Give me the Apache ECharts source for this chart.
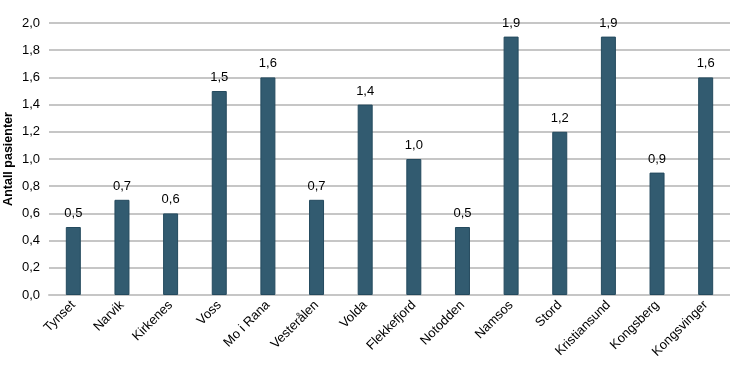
<!DOCTYPE html>
<html><head><meta charset="utf-8">
<script src="https://cdn.jsdelivr.net/npm/echarts@6/dist/echarts.min.js"></script>
<style>html,body{margin:0;padding:0;background:#fff}#c{width:730px;height:374px}</style>
</head><body><div id="c"></div>
<script>
const categories = ["Tynset","Narvik","Kirkenes","Voss","Mo i Rana","Vesterålen","Volda","Flekkefjord","Notodden","Namsos","Stord","Kristiansund","Kongsberg","Kongsvinger"];
const values = [0.5,0.7,0.6,1.5,1.6,0.7,1.4,1.0,0.5,1.9,1.2,1.9,0.9,1.6];
const yTitle = "Antall pasienter";
const fmt = v => v.toFixed(1).replace('.', ',');
const chart = echarts.init(document.getElementById('c'), null, {renderer:'canvas'});
chart.setOption({
  animation:false,
  textStyle:{fontFamily:'"Liberation Sans", Arial, sans-serif'},
  grid:{left:49,right:0,top:23,bottom:79,containLabel:false,outerBoundsMode:'none'},
  xAxis:{type:'category',data:categories,
    axisLine:{lineStyle:{color:'#c6c6c6',width:2}},
    axisTick:{show:false},
    axisLabel:{rotate:45,color:'#000',fontSize:13,margin:8,interval:0}},
  yAxis:{type:'value',min:0,max:2,interval:0.2,
    name:yTitle,nameLocation:'middle',nameGap:34,nameMoveOverlap:false,
    nameTextStyle:{fontWeight:'bold',fontSize:12.5,color:'#000'},
    axisLine:{show:false},axisTick:{show:false},
    axisLabel:{color:'#000',fontSize:13,margin:9,formatter:fmt},
    splitLine:{lineStyle:{color:'#c6c6c6',width:2}}},
  series:[{type:'bar',data:values,barWidth:15,
    itemStyle:{color:'#325b70',borderColor:'#244a5e',borderWidth:1},
    label:{show:true,position:'top',distance:7,color:'#000',fontSize:13,formatter:p=>fmt(p.value)}}]
});
</script></body></html>
